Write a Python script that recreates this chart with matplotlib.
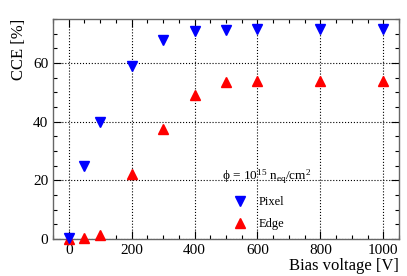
from matplotlib import pyplot as plt
from matplotlib.ticker import MultipleLocator

plt.rcParams['font.family'] = ['Liberation Serif', 'DejaVu Serif']
plt.rcParams['mathtext.fontset'] = 'custom'
plt.rcParams['mathtext.rm'] = 'Liberation Serif'
plt.rcParams['mathtext.it'] = 'Liberation Serif:italic'

voltage = [0, 50, 100, 200, 300, 400, 500, 600, 800, 1000]
cce_pixel = [0.3, 25, 39.8, 59, 68, 70.8, 71.4, 71.5, 71.5, 71.5]
cce_edge = [0, 0.3, 1.2, 22, 37.4, 49, 53.6, 54, 54, 54]

fig = plt.figure(figsize=(4.07, 2.76), dpi=100)
ax = fig.add_axes([53/407, 1-239/276, 346/407, 220/276])

ax.plot(voltage, cce_pixel, 'v', color='blue', ms=7, clip_on=False, zorder=5, label='Pixel')
ax.plot(voltage, cce_edge, '^', color='red', ms=7, clip_on=False, zorder=4, label='Edge')

ax.set_xlim(-50, 1050)
ax.set_ylim(0, 75)
ax.xaxis.set_major_locator(MultipleLocator(200))
ax.xaxis.set_minor_locator(MultipleLocator(50))
ax.yaxis.set_major_locator(MultipleLocator(20))
ax.yaxis.set_minor_locator(MultipleLocator(5))
ax.tick_params(which='both', direction='in', top=True, right=True, labelsize=11, color='black', width=0.8)
ax.tick_params(which='major', length=6)
ax.tick_params(which='minor', length=3)
ax.grid(True, which='major', linestyle=':', color='black', linewidth=0.8)
for s in ax.spines.values():
    s.set_color('#666666')
    s.set_linewidth(1.0)

ax.set_xlabel('Bias voltage [V]', fontsize=12, loc='right', labelpad=1)
ax.set_ylabel('CCE [%]', fontsize=12, loc='top', labelpad=4)

leg = ax.legend(title='ϕ = 10$^{15}$ n$_{\\rm eq}$/cm$^{2}$', loc='upper left',
                bbox_to_anchor=(222/407, 1-168/276), bbox_transform=fig.transFigure,
                frameon=False, fontsize=9, title_fontsize=9.5, borderpad=0,
                handlelength=2.9, handletextpad=0.05, labelspacing=0.8, borderaxespad=0)
leg._legend_box.align = 'left'

fig.savefig('out.png', dpi=100)
